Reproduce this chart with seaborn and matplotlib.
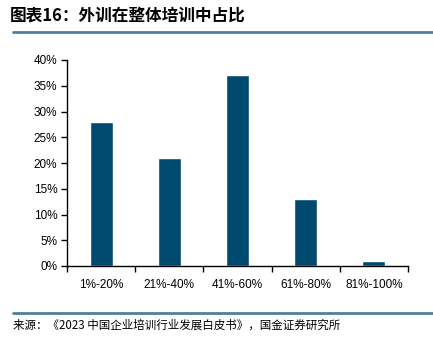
import matplotlib
matplotlib.use("Agg")
import matplotlib.pyplot as plt
from matplotlib.lines import Line2D
from matplotlib.ticker import FixedLocator, PercentFormatter
import numpy as np
import pandas as pd
import seaborn as sns

categories = ["1%-20%", "21%-40%", "41%-60%", "61%-80%", "81%-100%"]
shares = [28, 21, 37, 13, 1]
y_ticks = [0, 5, 10, 15, 20, 25, 30, 35, 40]

title = "图表16：外训在整体培训中占比"
source = "来源：《2023 中国企业培训行业发展白皮书》，国金证券研究所"

sns.set_theme(style="white")
plt.rcParams["font.family"] = ["Liberation Sans", "Noto Sans CJK SC", "DejaVu Sans"]

bar_color = "#004A6F"
rule_color = "#4E7FA0"

fig = plt.figure(figsize=(4.33, 3.37), dpi=100)
ax = fig.add_axes([67 / 433, 1 - 266 / 337, (408 - 67) / 433, (266 - 60) / 337])

df = pd.DataFrame({"cat": categories, "share": shares})
sns.barplot(data=df, x="cat", y="share", color=bar_color, saturation=1,
            width=0.34, ax=ax)

ax.set_xlim(-0.5, len(categories) - 0.5)
ax.set_ylim(0, 40)
ax.set_yticks(y_ticks)
ax.yaxis.set_major_formatter(PercentFormatter(decimals=0))
ax.set_xlabel("")
ax.set_ylabel("")

for s in ["top", "right"]:
    ax.spines[s].set_visible(False)
for s in ["left", "bottom"]:
    ax.spines[s].set_color("black")
    ax.spines[s].set_linewidth(1.0)

# category labels centred, tick marks on the boundaries between categories
ax.tick_params(axis="x", which="major", length=0, pad=9, labelsize=8.5, colors="black")
ax.xaxis.set_minor_locator(FixedLocator(np.arange(-0.5, len(categories), 1.0)))
ax.tick_params(axis="x", which="minor", direction="out", length=4, width=1, color="black", bottom=True)
ax.tick_params(axis="y", direction="out", length=4, width=1, labelsize=8.5, pad=3,
               colors="black", left=True)

fig.text(10 / 433, 1 - 16 / 337, title, fontsize=12, fontweight="bold",
         family=["Noto Sans CJK SC", "DejaVu Sans"], va="center", ha="left", color="black")
fig.add_artist(Line2D([13 / 433, 1.0], [1 - 32 / 337] * 2, color=rule_color, lw=2,
                      transform=fig.transFigure))
fig.add_artist(Line2D([13 / 433, 1.0], [1 - 313 / 337] * 2, color=rule_color, lw=2,
                      transform=fig.transFigure))
fig.text(13 / 433, 1 - 325 / 337, source, fontsize=8.3,
         family=["Noto Sans CJK SC", "DejaVu Sans"], va="center", ha="left", color="black")

fig.savefig("out.png", dpi=100)
